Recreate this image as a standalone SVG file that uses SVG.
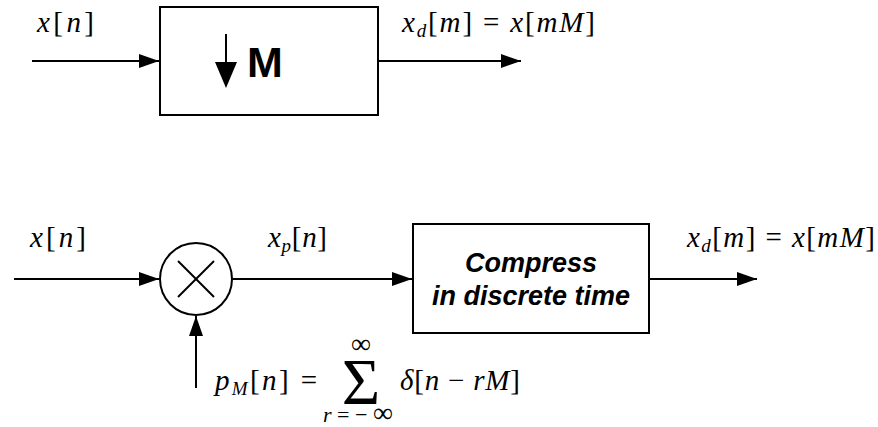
<svg xmlns="http://www.w3.org/2000/svg" width="878" height="427" viewBox="0 0 878 427">
<defs>
<marker id="arr" markerUnits="userSpaceOnUse" markerWidth="20" markerHeight="14" refX="20" refY="7" orient="auto">
<path d="M0,0 L20,7 L0,14 z" fill="#000"/>
</marker>
<style>
.ln{stroke:#000;stroke-width:2;fill:none}
.bx{stroke:#000;stroke-width:2;fill:#fff}
.m{font-family:"Liberation Serif","Times New Roman",serif;font-size:29px;fill:#000}
.i{font-style:italic}
.s{font-size:19px}
.b{font-family:"Liberation Sans",Arial,sans-serif;font-weight:bold;fill:#000}
</style>
</defs>
<rect width="878" height="427" fill="#fff"/>
<g id="connectors">
<line class="ln" x1="32" y1="61" x2="159" y2="61" marker-end="url(#arr)"/>
<line class="ln" x1="378" y1="61" x2="521" y2="61" marker-end="url(#arr)"/>
<line class="ln" x1="14" y1="279" x2="159" y2="279" marker-end="url(#arr)"/>
<line class="ln" x1="233" y1="279" x2="412" y2="279" marker-end="url(#arr)"/>
<line class="ln" x1="649" y1="279" x2="757" y2="279" marker-end="url(#arr)"/>
<line class="ln" x1="196" y1="388" x2="196" y2="316" marker-end="url(#arr)"/>
</g>
<g id="downsampler">
<rect class="bx" x="160" y="7" width="218" height="108"/>
<line class="ln" x1="226" y1="34" x2="226" y2="64"/>
<path d="M215,62 L237,62 L226,88 z" fill="#000"/>
<text class="b" x="247" y="77" style="font-size:43px">M</text>
</g>
<g id="multiplier">
<circle class="bx" cx="196" cy="279" r="36"/>
<line class="ln" x1="178" y1="261" x2="214" y2="297"/>
<line class="ln" x1="214" y1="261" x2="178" y2="297"/>
</g>
<g id="compress">
<rect class="bx" x="413" y="224" width="236" height="109"/>
<text class="b" style="font-style:italic;font-size:27px" text-anchor="middle"><tspan x="531" y="272">Compress</tspan><tspan x="531" y="305">in discrete time</tspan></text>
</g>
<g id="labels">
<text class="m" x="37" y="32" textLength="57" lengthAdjust="spacing"><tspan class="i">x</tspan>[<tspan class="i">n</tspan>]</text>
<text class="m" x="402" y="32" textLength="193" lengthAdjust="spacing"><tspan class="i">x</tspan><tspan class="i s" dy="5">d</tspan><tspan dy="-5">[</tspan><tspan class="i">m</tspan>] = <tspan class="i">x</tspan>[<tspan class="i">mM</tspan>]</text>
<text class="m" x="30" y="247" textLength="56" lengthAdjust="spacing"><tspan class="i">x</tspan>[<tspan class="i">n</tspan>]</text>
<text class="m" x="268" y="247" textLength="59" lengthAdjust="spacing"><tspan class="i">x</tspan><tspan class="i s" dy="5">p</tspan><tspan dy="-5">[</tspan><tspan class="i">n</tspan>]</text>
<text class="m" x="687" y="247" textLength="188" lengthAdjust="spacing"><tspan class="i">x</tspan><tspan class="i s" dy="5">d</tspan><tspan dy="-5">[</tspan><tspan class="i">m</tspan>] = <tspan class="i">x</tspan>[<tspan class="i">mM</tspan>]</text>
<text class="m" x="215" y="390" textLength="102" lengthAdjust="spacing"><tspan class="i">p</tspan><tspan class="i s" dy="5">M</tspan><tspan dy="-5">[</tspan><tspan class="i">n</tspan>] =</text>
<text class="m" x="361" y="404" style="font-size:66px" text-anchor="middle">Σ</text>
<text class="m" x="361" y="353" style="font-size:28px" text-anchor="middle">∞</text>
<text class="m" x="323" y="422" style="font-size:22px" textLength="70" lengthAdjust="spacing"><tspan class="i">r</tspan>=−<tspan style="font-size:28px">∞</tspan></text>
<text class="m" x="400" y="390" textLength="120" lengthAdjust="spacing"><tspan class="i">δ</tspan>[<tspan class="i">n</tspan> − <tspan class="i">rM</tspan>]</text>
</g>
</svg>
